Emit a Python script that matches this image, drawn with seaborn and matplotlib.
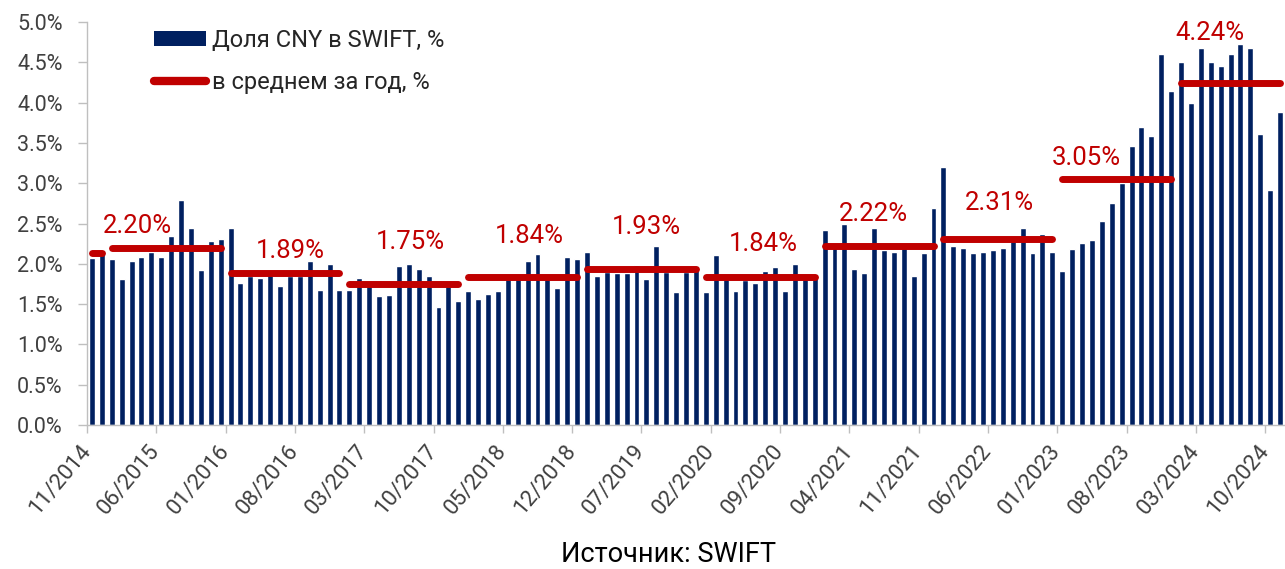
import numpy as np
import pandas as pd
import matplotlib
matplotlib.use("Agg")
import matplotlib.pyplot as plt
from matplotlib.patches import Patch
from matplotlib.lines import Line2D
import seaborn as sns

# monthly share of CNY in SWIFT payments, % (11/2014 - 11/2024)
share_2014 = [2.07, 2.15]
share_2015 = [2.06, 1.81, 2.03, 2.08, 2.15, 2.08, 2.34, 2.79, 2.45, 1.92, 2.28, 2.31]
share_2016 = [2.45, 1.76, 1.85, 1.82, 1.86, 1.72, 1.85, 1.85, 2.03, 1.67, 2.00, 1.68]
share_2017 = [1.68, 1.83, 1.78, 1.60, 1.61, 1.97, 2.00, 1.94, 1.85, 1.47, 1.72, 1.54]
share_2018 = [1.66, 1.56, 1.62, 1.66, 1.82, 1.82, 2.04, 2.12, 1.84, 1.70, 2.08, 2.06]
share_2019 = [2.15, 1.85, 1.90, 1.88, 1.89, 1.99, 1.81, 2.22, 1.90, 1.65, 1.90, 1.95]
share_2020 = [1.65, 2.11, 1.85, 1.66, 1.80, 1.76, 1.91, 1.96, 1.66, 2.00, 1.82, 1.82]
share_2021 = [2.42, 2.21, 2.49, 1.94, 1.89, 2.45, 2.17, 2.15, 2.19, 1.85, 2.14, 2.69]
share_2022 = [3.20, 2.22, 2.19, 2.14, 2.15, 2.17, 2.19, 2.30, 2.44, 2.13, 2.37, 2.15]
share_2023 = [1.91, 2.18, 2.26, 2.29, 2.53, 2.76, 3.00, 3.46, 3.70, 3.59, 4.60, 4.14]
share_2024 = [4.50, 3.99, 4.68, 4.51, 4.46, 4.60, 4.73, 4.68, 3.61, 2.92, 3.88]

years = [2014, 2015, 2016, 2017, 2018, 2019, 2020, 2021, 2022, 2023, 2024]
year_avg = [2.13, 2.20, 1.89, 1.75, 1.84, 1.93, 1.84, 2.22, 2.31, 3.05, 4.24]
avg_labels = ["", "2.20%", "1.89%", "1.75%", "1.84%", "1.93%", "1.84%",
              "2.22%", "2.31%", "3.05%", "4.24%"]

tick_labels = ["11/2014", "06/2015", "01/2016", "08/2016", "03/2017", "10/2017",
               "05/2018", "12/2018", "07/2019", "02/2020", "09/2020", "04/2021",
               "11/2021", "06/2022", "01/2023", "08/2023", "03/2024", "10/2024"]

# label placement relative to the middle of each year's line (months, % points)
label_dx = [0, -2.9, 0.5, 0.7, 0.7, 0.5, 0.3, -0.6, 0.2, -3.1, -2.1]
label_dy = [0, 0.27, 0.27, 0.52, 0.51, 0.53, 0.40, 0.40, 0.45, 0.26, 0.62]

BLUE = "#002060"
RED = "#C00000"
GREY = "#404040"
AXIS = "#BFBFBF"

share = (share_2014 + share_2015 + share_2016 + share_2017 + share_2018 + share_2019
         + share_2020 + share_2021 + share_2022 + share_2023 + share_2024)
months = pd.date_range("2014-11-01", periods=len(share), freq="MS")
df = pd.DataFrame({"month": months.strftime("%m/%Y"), "share": share,
                   "year": months.year})

sns.set_theme(style="ticks")
plt.rcParams["font.family"] = ["Roboto", "DejaVu Sans"]

fig, ax = plt.subplots(figsize=(12.85, 5.69), dpi=100)
fig.subplots_adjust(left=0.0677, right=1.0, bottom=0.2531, top=0.9613)

sns.barplot(data=df, x="month", y="share", color=BLUE, saturation=1,
            width=0.6, ax=ax)

# yearly averages
for y, avg, lab, dx, dy in zip(years, year_avg, avg_labels, label_dx, label_dy):
    idx = np.where(df["year"] == y)[0]
    ax.plot([idx[0], idx[-1]], [avg, avg], color=RED, lw=5,
            solid_capstyle="round", clip_on=False, zorder=3)
    if lab:
        mid = (idx[0] + idx[-1]) / 2
        ax.text(mid + dx, avg + dy, lab, color=RED, fontsize=18.5,
                ha="center", va="center")

ax.set_xlim(-0.5, len(share) - 0.5)
ax.set_ylim(0, 5)
ax.set_yticks(np.arange(0, 5.01, 0.5))
ax.set_yticklabels([f"{v:.1f}%" for v in np.arange(0, 5.01, 0.5)])
ax.set_xticks([i - 0.5 for i in range(0, len(share), 7)])
ax.set_xticklabels(tick_labels, rotation=50, ha="right", va="center",
                   rotation_mode="anchor")
ax.tick_params(axis="y", labelsize=15.5, labelcolor=GREY, color=AXIS,
               length=6.5, width=1, pad=11)
ax.tick_params(axis="x", labelsize=16, labelcolor=GREY, color=AXIS,
               length=6, width=1, pad=10)
ax.set_xlabel("")
ax.set_ylabel("")
sns.despine(ax=ax)
for s in ["left", "bottom"]:
    ax.spines[s].set_color(AXIS)
    ax.spines[s].set_linewidth(1)

handles = [Patch(facecolor=BLUE, edgecolor="none"),
           Line2D([0], [0], color=RED, lw=6, solid_capstyle="round")]
ax.legend(handles, ["Доля CNY в SWIFT, %", "в среднем за год, %"],
          loc="upper left", bbox_to_anchor=(0.056, 0.983), frameon=False,
          fontsize=17, handlelength=2.2, handleheight=0.55,
          handletextpad=0.25, labelspacing=0.8, borderaxespad=0, borderpad=0)

fig.text(0.52, 0.026, "Источник: SWIFT", fontsize=19.5, color="black",
         ha="center", va="center")

fig.savefig("out.png", dpi=100)
